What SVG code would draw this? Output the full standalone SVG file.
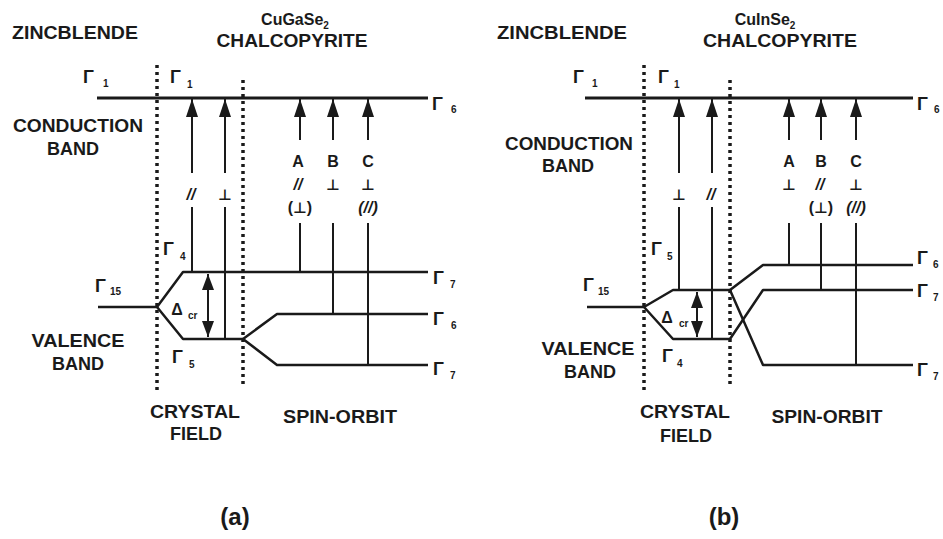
<svg xmlns="http://www.w3.org/2000/svg" width="943" height="539" viewBox="0 0 943 539">
<defs>
<style>
.t{font-family:"Liberation Sans",Arial,sans-serif;font-weight:bold;font-size:18px;fill:#1a1a1a;text-anchor:middle}
.s{font-family:"Liberation Sans",Arial,sans-serif;font-weight:bold;font-size:16px;fill:#1a1a1a;text-anchor:middle}
.g{font-family:"Liberation Sans",Arial,sans-serif;font-weight:bold;font-size:18px;fill:#1a1a1a}
.sub{font-family:"Liberation Sans",Arial,sans-serif;font-weight:bold;font-size:10px;fill:#1a1a1a}
.perp{font-family:"DejaVu Sans",sans-serif;font-weight:bold;font-size:15px;fill:#1a1a1a;text-anchor:middle}
.cap{font-family:"Liberation Sans",Arial,sans-serif;font-weight:bold;font-size:24px;fill:#1a1a1a;text-anchor:middle}
.cb{stroke:#1a1a1a;stroke-width:3;fill:none}
.lv{stroke:#1a1a1a;stroke-width:2.5;fill:none;stroke-linejoin:round}
.dot{stroke:#1a1a1a;stroke-width:3.5;stroke-dasharray:3 4;fill:none}
.sh{stroke:#1a1a1a;stroke-width:2;fill:none}
.ar{stroke:#1a1a1a;stroke-width:2;fill:none;marker-end:url(#ah)}
.dc{stroke:#1a1a1a;stroke-width:2;fill:none;marker-start:url(#sh);marker-end:url(#sh)}
</style>
<marker id="ah" markerUnits="userSpaceOnUse" markerWidth="18" markerHeight="12" refX="18" refY="6" orient="auto">
<path d="M0,0 L18,6 L0,12 z" fill="#1a1a1a"/>
</marker>
<marker id="sh" markerUnits="userSpaceOnUse" markerWidth="16" markerHeight="12" refX="16" refY="6" orient="auto-start-reverse">
<path d="M0,0 L16,6 L0,12 z" fill="#1a1a1a"/>
</marker>
</defs>
<rect width="943" height="539" fill="#ffffff"/>

<!-- ===== Diagram (a) ===== -->
<g id="a-headers">
<text class="t" x="75" y="39" textLength="126" lengthAdjust="spacingAndGlyphs">ZINCBLENDE</text>
<text class="s" x="295" y="25" font-size="17">CuGaSe<tspan class="sub" dy="4" font-size="10">2</tspan></text>
<text class="t" x="292" y="47" textLength="151" lengthAdjust="spacingAndGlyphs">CHALCOPYRITE</text>
<text class="t" x="78" y="132" textLength="130" lengthAdjust="spacingAndGlyphs">CONDUCTION</text>
<text class="t" x="73" y="155">BAND</text>
<text class="t" x="78" y="347" textLength="93" lengthAdjust="spacingAndGlyphs">VALENCE</text>
<text class="t" x="78" y="370">BAND</text>
<text class="t" x="195" y="418" textLength="90" lengthAdjust="spacingAndGlyphs">CRYSTAL</text>
<text class="t" x="196" y="440">FIELD</text>
<text class="t" x="340" y="423" textLength="114" lengthAdjust="spacingAndGlyphs">SPIN-ORBIT</text>
<text class="cap" x="235" y="525">(a)</text>
</g>

<g id="a-dividers">
<line class="dot" x1="157" y1="65" x2="157" y2="390"/>
<line class="dot" x1="243" y1="80" x2="243" y2="387"/>
</g>

<g id="a-levels">
<line class="cb" x1="97" y1="98" x2="428" y2="98"/>
<polyline class="lv" points="98,307 157,307 183,272 428,272"/>
<polyline class="lv" points="157,307 183,339 243,339"/>
<polyline class="lv" points="243,339 277,314 428,314"/>
<polyline class="lv" points="243,339 277,365 428,365"/>
</g>

<g id="a-level-labels">
<text class="g" x="83" y="83">Γ</text><text class="sub" x="103" y="87">1</text>
<text class="g" x="170" y="83">Γ</text><text class="sub" x="187" y="88">1</text>
<text class="g" x="432" y="110">Γ</text><text class="sub" x="451" y="113">6</text>
<text class="g" x="163" y="255">Γ</text><text class="sub" x="180" y="260">4</text>
<text class="g" x="95" y="292">Γ</text><text class="sub" x="110" y="295">15</text>
<text class="g" x="172" y="363">Γ</text><text class="sub" x="189" y="368">5</text>
<text class="g" x="433" y="284">Γ</text><text class="sub" x="450" y="288">7</text>
<text class="g" x="433" y="325">Γ</text><text class="sub" x="451" y="329">6</text>
<text class="g" x="433" y="375">Γ</text><text class="sub" x="450" y="379">7</text>
<text class="s" x="177" y="315">Δ</text><text class="sub" x="188" y="319">cr</text>
</g>

<g id="a-transitions">
<line class="ar" x1="192" y1="173" x2="192" y2="99"/>
<line class="sh" x1="192" y1="207" x2="192" y2="272"/>
<line class="ar" x1="225" y1="173" x2="225" y2="99"/>
<line class="sh" x1="225" y1="207" x2="225" y2="339"/>
<line class="ar" x1="300" y1="140" x2="300" y2="99"/>
<line class="sh" x1="300" y1="223" x2="300" y2="272"/>
<line class="ar" x1="333" y1="140" x2="333" y2="99"/>
<line class="sh" x1="333" y1="223" x2="333" y2="314"/>
<line class="ar" x1="368" y1="140" x2="368" y2="99"/>
<line class="sh" x1="368" y1="223" x2="368" y2="365"/>
<line class="dc" x1="208" y1="274" x2="208" y2="337"/>
</g>

<g id="a-transition-labels">
<text class="s" x="191" y="200" font-style="italic">//</text>
<text class="perp" x="225" y="200">⊥</text>
<text class="s" x="298" y="167">A</text>
<text class="s" x="333" y="167">B</text>
<text class="s" x="368" y="167">C</text>
<text class="s" x="298" y="190" font-style="italic">//</text>
<text class="perp" x="333" y="190">⊥</text>
<text class="perp" x="368" y="190">⊥</text>
<text class="s" x="300" y="213">(<tspan class="perp">⊥</tspan>)</text>
<text class="s" x="368" y="213" font-style="italic">(//)</text>
</g>

<!-- ===== Diagram (b) ===== -->
<g id="b-headers">
<text class="t" x="562" y="39" textLength="130" lengthAdjust="spacingAndGlyphs">ZINCBLENDE</text>
<text class="s" x="765" y="25" font-size="17">CuInSe<tspan class="sub" dy="4" font-size="10">2</tspan></text>
<text class="t" x="780" y="47" textLength="154" lengthAdjust="spacingAndGlyphs">CHALCOPYRITE</text>
<text class="t" x="569" y="150" textLength="128" lengthAdjust="spacingAndGlyphs">CONDUCTION</text>
<text class="t" x="568" y="172">BAND</text>
<text class="t" x="588" y="355" textLength="93" lengthAdjust="spacingAndGlyphs">VALENCE</text>
<text class="t" x="590" y="378">BAND</text>
<text class="t" x="685" y="418" textLength="90" lengthAdjust="spacingAndGlyphs">CRYSTAL</text>
<text class="t" x="686" y="442">FIELD</text>
<text class="t" x="827" y="423" textLength="111" lengthAdjust="spacingAndGlyphs">SPIN-ORBIT</text>
<text class="cap" x="724" y="525">(b)</text>
</g>

<g id="b-dividers">
<line class="dot" x1="644" y1="65" x2="644" y2="390"/>
<line class="dot" x1="730" y1="80" x2="730" y2="387"/>
</g>

<g id="b-levels">
<line class="cb" x1="585" y1="98" x2="913" y2="98"/>
<polyline class="lv" points="587,307 644,307 673,290 730,290"/>
<polyline class="lv" points="644,307 673,339 730,339"/>
<polyline class="lv" points="730,290 763,265 913,265"/>
<polyline class="lv" points="730,290 763,365 913,365"/>
<polyline class="lv" points="730,339 763,290 913,290"/>
</g>

<g id="b-level-labels">
<text class="g" x="573" y="83">Γ</text><text class="sub" x="592" y="87">1</text>
<text class="g" x="658" y="83">Γ</text><text class="sub" x="674" y="88">1</text>
<text class="g" x="917" y="110">Γ</text><text class="sub" x="934" y="113">6</text>
<text class="g" x="651" y="255">Γ</text><text class="sub" x="667" y="260">5</text>
<text class="g" x="583" y="291">Γ</text><text class="sub" x="598" y="295">15</text>
<text class="g" x="662" y="362">Γ</text><text class="sub" x="677" y="367">4</text>
<text class="g" x="917" y="264">Γ</text><text class="sub" x="933" y="268">6</text>
<text class="g" x="917" y="297">Γ</text><text class="sub" x="933" y="301">7</text>
<text class="g" x="917" y="376">Γ</text><text class="sub" x="933" y="380">7</text>
<text class="s" x="667" y="323">Δ</text><text class="sub" x="679" y="327">cr</text>
</g>

<g id="b-transitions">
<line class="ar" x1="679" y1="173" x2="679" y2="99"/>
<line class="sh" x1="679" y1="207" x2="679" y2="290"/>
<line class="ar" x1="712" y1="173" x2="712" y2="99"/>
<line class="sh" x1="712" y1="207" x2="712" y2="339"/>
<line class="ar" x1="789" y1="140" x2="789" y2="99"/>
<line class="sh" x1="789" y1="223" x2="789" y2="265"/>
<line class="ar" x1="821" y1="140" x2="821" y2="99"/>
<line class="sh" x1="821" y1="223" x2="821" y2="290"/>
<line class="ar" x1="856" y1="140" x2="856" y2="99"/>
<line class="sh" x1="856" y1="223" x2="856" y2="365"/>
<line class="dc" x1="697" y1="292" x2="697" y2="337"/>
</g>

<g id="b-transition-labels">
<text class="perp" x="679" y="200">⊥</text>
<text class="s" x="711" y="200" font-style="italic">//</text>
<text class="s" x="789" y="167">A</text>
<text class="s" x="821" y="167">B</text>
<text class="s" x="856" y="167">C</text>
<text class="perp" x="789" y="190">⊥</text>
<text class="s" x="820" y="190" font-style="italic">//</text>
<text class="perp" x="856" y="190">⊥</text>
<text class="s" x="821" y="213">(<tspan class="perp">⊥</tspan>)</text>
<text class="s" x="856" y="213" font-style="italic">(//)</text>
</g>
</svg>
